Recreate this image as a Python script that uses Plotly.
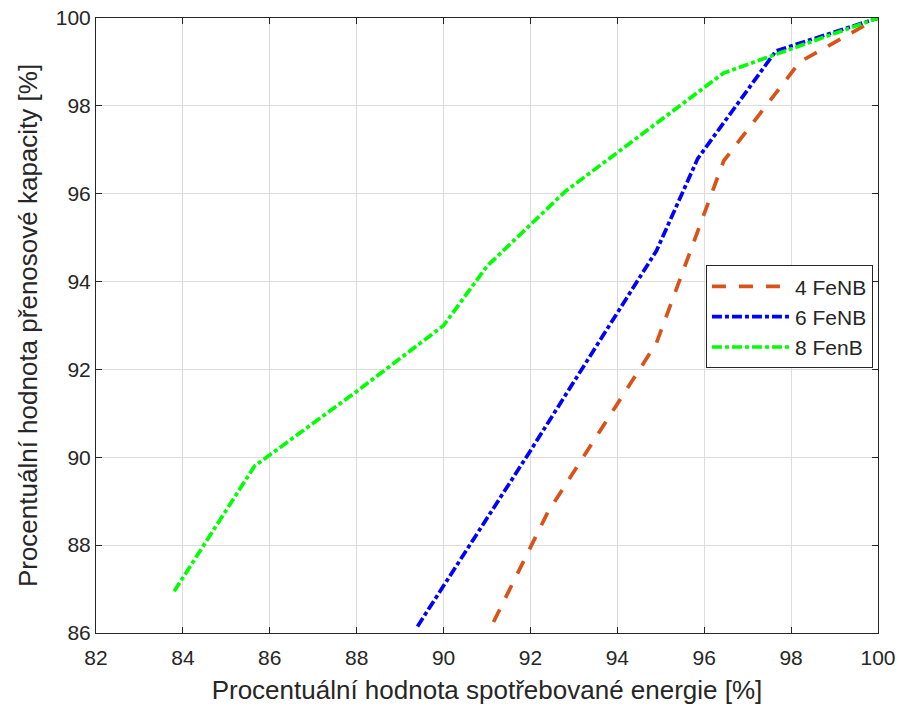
import plotly.graph_objects as go

# 4 FeNB
x4 = [91.15, 92.4, 94.9, 96.45, 98.2, 100.0]
y4 = [86.25, 88.75, 92.6, 96.75, 99.0, 100.0]
# 6 FeNB
x6 = [89.4, 92.0, 94.9, 95.85, 97.65, 100.0]
y6 = [86.15, 90.15, 94.7, 96.8, 99.25, 100.0]
# 8 FenB
x8 = [83.8, 85.65, 88.0, 90.0, 91.0, 92.8, 96.45, 97.6, 100.0]
y8 = [86.95, 89.8, 91.5, 93.0, 94.35, 96.05, 98.75, 99.15, 100.0]

names = ["4 FeNB", "6 FeNB", "8 FenB"]
xticks = [82, 84, 86, 88, 90, 92, 94, 96, 98, 100]
yticks = [86, 88, 90, 92, 94, 96, 98, 100]

FONT = "Liberation Sans, Arial, Helvetica"
TXT = "#262626"

fig = go.Figure()
fig.add_trace(go.Scatter(x=x4, y=y4, mode="lines", name=names[0],
                         line=dict(color="#D95319", width=3.7, dash="14px,13px")))
fig.add_trace(go.Scatter(x=x6, y=y6, mode="lines", name=names[1],
                         line=dict(color="#0000FF", width=3.7, dash="10px,3px,4px,3px")))
fig.add_trace(go.Scatter(x=x8, y=y8, mode="lines", name=names[2],
                         line=dict(color="#00FF00", width=3.7, dash="10px,3px,4px,3px")))

axis_common = dict(
    showgrid=True, gridcolor="#DCDCDC", gridwidth=1,
    showline=True, linecolor=TXT, linewidth=1, mirror="ticks",
    ticks="inside", ticklen=6, tickcolor=TXT, tickwidth=1,
    zeroline=False, automargin=False, ticklabeloverflow="allow",
    tickfont=dict(family=FONT, size=21, color=TXT),
)

fig.update_layout(
    width=902, height=718,
    margin=dict(l=96, r=24, t=18, b=85),
    paper_bgcolor="white", plot_bgcolor="white",
    xaxis=dict(range=[82, 100], tickvals=xticks, ticktext=[str(v) for v in xticks],
               ticklabelstandoff=6,
               title=dict(text="Procentuální hodnota spotřebované energie [%]",
                          font=dict(family=FONT, size=26, color=TXT),
                          standoff=12),
               **axis_common),
    yaxis=dict(range=[86, 100], tickvals=yticks, ticktext=[str(v) for v in yticks],
               title=dict(text="Procentuální hodnota přenosové kapacity [%]",
                          font=dict(family=FONT, size=26, color=TXT),
                          standoff=10),
               **axis_common),
    legend=dict(x=0.78, y=0.598, xanchor="left", yanchor="top",
                bgcolor="white", bordercolor=TXT, borderwidth=1,
                font=dict(family=FONT, size=21, color=TXT),
                itemwidth=78),
    showlegend=True,
)

fig.write_html("out.html",
               config={"displayModeBar": False},
               post_script="document.body.style.margin='0';document.body.style.padding='0';")
